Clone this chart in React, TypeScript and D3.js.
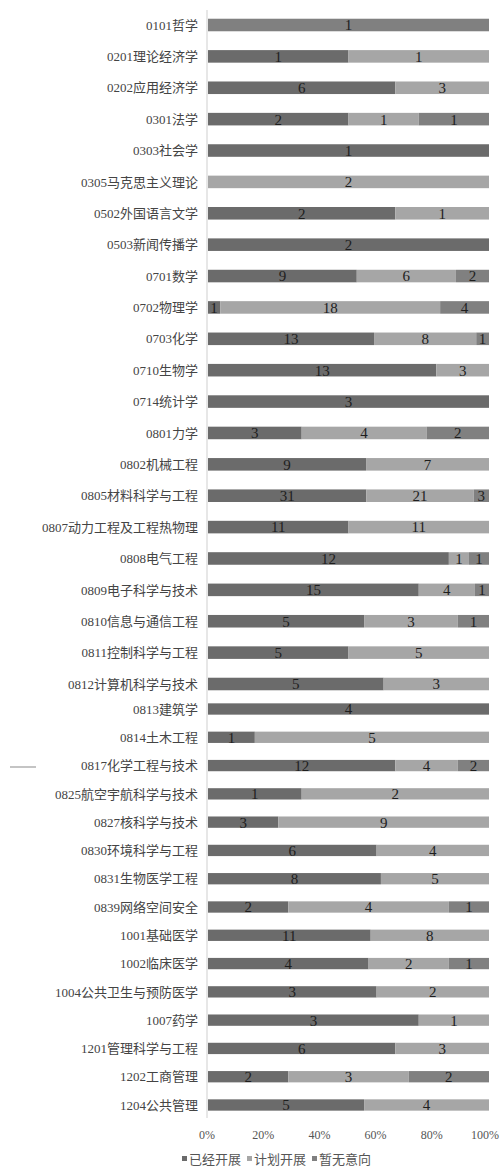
import React from 'react';
import * as d3 from 'd3';

// disciplines, top to bottom
const categories = [
  '0101哲学', '0201理论经济学', '0202应用经济学', '0301法学', '0303社会学', '0305马克思主义理论',
  '0502外国语言文学', '0503新闻传播学', '0701数学', '0702物理学', '0703化学', '0710生物学',
  '0714统计学', '0801力学', '0802机械工程', '0805材料科学与工程', '0807动力工程及工程热物理',
  '0808电气工程', '0809电子科学与技术', '0810信息与通信工程', '0811控制科学与工程', '0812计算机科学与技术',
  '0813建筑学', '0814土木工程', '0817化学工程与技术', '0825航空宇航科学与技术', '0827核科学与技术',
  '0830环境科学与工程', '0831生物医学工程', '0839网络空间安全', '1001基础医学', '1002临床医学',
  '1004公共卫生与预防医学', '1007药学', '1201管理科学与工程', '1202工商管理', '1204公共管理',
];

const seriesNames = ['已经开展', '计划开展', '暂无意向'];

const started = [0, 1, 6, 2, 1, 0, 2, 2, 9, 1, 13, 13, 3, 3, 9, 31, 11, 12, 15, 5, 5, 5, 4, 1, 12, 1, 3, 6, 8, 2, 11, 4, 3, 3, 6, 2, 5];
const planned = [0, 1, 3, 1, 0, 2, 1, 0, 6, 18, 8, 3, 0, 4, 7, 21, 11, 1, 4, 3, 5, 3, 0, 5, 4, 2, 9, 4, 5, 4, 8, 2, 2, 1, 3, 3, 4];
const noPlan = [1, 0, 0, 1, 0, 0, 0, 0, 2, 4, 1, 0, 0, 2, 0, 3, 0, 1, 1, 1, 0, 0, 0, 0, 2, 0, 0, 0, 0, 1, 0, 1, 0, 0, 0, 2, 0];

const xTicks = [0, 0.2, 0.4, 0.6, 0.8, 1];

const colors = ['#6b6b6b', '#a6a6a6', '#808080'];
const serif = '"Liberation Serif", "Noto Sans CJK SC", serif';

const W = 500;
const H = 1173;

// the scan is two pages glued together, rows have a different pitch on each
const splitAt = 22;

export default function App() {
  const rows = categories.map((c, i) => ({ cat: c, 已经开展: started[i], 计划开展: planned[i], 暂无意向: noPlan[i] }));
  const stacked = d3.stack<any>().keys(seriesNames).offset(d3.stackOffsetExpand)(rows);

  const x = d3.scaleLinear().domain([0, 1]).range([208, 489]);
  const yTop = d3.scalePoint<string>().domain(categories.slice(0, splitAt)).range([25, 684]);
  const yBot = d3.scalePoint<string>().domain(categories.slice(splitAt)).range([709, 1105]);
  const yPos = (c: string) => (yTop(c) ?? yBot(c)) as number;
  const barH = (c: string) => (yTop(c) !== undefined ? yTop.step() : yBot.step()) * 0.4;

  return (
    <svg width={W} height={H} style={{ position: 'absolute', left: 0, top: 0, background: '#fff' }}>
      {/* stray scan mark */}
      <line x1={10} x2={36} y1={767} y2={767} stroke="#c4c4c4" strokeWidth={2} />

      {stacked.map((s, si) => (
        <g key={s.key} fill={colors[si]}>
          {s.map((d, i) => {
            const c = categories[i];
            const w = x(d[1]) - x(d[0]);
            if (w <= 0) return null;
            return (
              <rect key={c} x={x(d[0])} y={yPos(c) - barH(c) / 2} width={w} height={barH(c)} />
            );
          })}
        </g>
      ))}

      {stacked.map((s, si) => (
        <g key={s.key + '-lbl'} fontFamily={serif} fontSize={15} fill="#1e1e1e" textAnchor="middle">
          {s.map((d, i) => {
            const v = (d.data as any)[s.key];
            if (!v) return null;
            const c = categories[i];
            return (
              <text key={c} x={(x(d[0]) + x(d[1])) / 2} y={yPos(c)} dy="0.36em">{v}</text>
            );
          })}
        </g>
      ))}

      <line x1={207} x2={207} y1={10} y2={1118} stroke="#cfcfcf" strokeWidth={1} />

      <g fontFamily={serif} fontSize={13} fill="#444" textAnchor="end">
        {categories.map(c => (
          <text key={c} x={198} y={yPos(c)} dy="0.36em">{c}</text>
        ))}
      </g>

      <g fontFamily={serif} fontSize={12} fill="#555">
        {xTicks.map((t, i) => {
          const last = i === xTicks.length - 1;
          return (
            <text key={t} x={last ? 499 : x(t) - 1} y={1139} textAnchor={last ? 'end' : 'middle'}>
              {d3.format('.0%')(t)}
            </text>
          );
        })}
      </g>

      <g fontFamily={serif} fontSize={13} fill="#555">
        {seriesNames.map((n, i) => (
          <g key={n} transform={`translate(${182 + i * 65},1164)`}>
            <rect x={0} y={-8} width={5} height={5} fill={colors[i]} />
            <text x={7} y={0}>{n}</text>
          </g>
        ))}
      </g>
    </svg>
  );
}
